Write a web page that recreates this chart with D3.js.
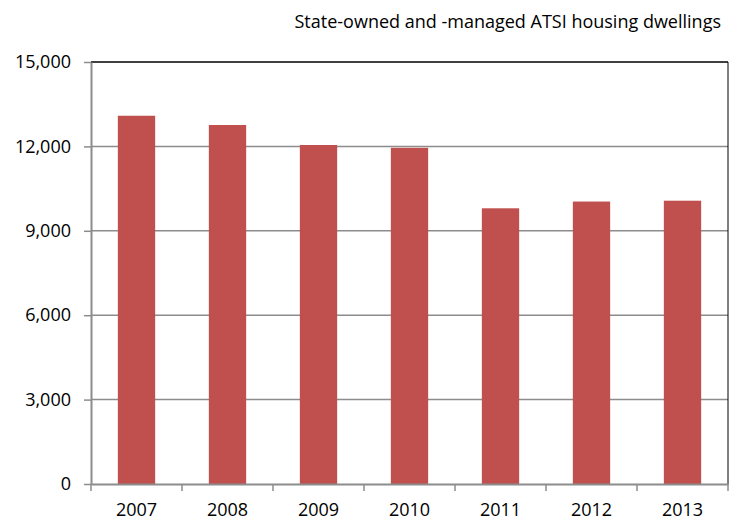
<!DOCTYPE html>
<html>
<head>
<meta charset="utf-8">
<script src="https://cdn.jsdelivr.net/npm/d3@7"></script>
<style>
  body { margin: 0; background: #fff; }
  text { font-family: "Open Sans", "DejaVu Sans", sans-serif; fill: #000; }
</style>
</head>
<body>
<svg id="chart"></svg>
<script>
const years = ["2007", "2008", "2009", "2010", "2011", "2012", "2013"];
const dwellings = [13090, 12760, 12050, 11950, 9800, 10040, 10070];
const yTicks = [0, 3000, 6000, 9000, 12000, 15000];
const title = "State-owned and -managed ATSI housing dwellings";

const width = 731;
const height = 520;
const plotLeft = 91, plotRight = 728, plotTop = 62, plotBottom = 484;

const svg = d3.select("#chart")
              .attr("width", width)
              .attr("height", height);

const xScale = d3.scaleBand()
                 .domain(years)
                 .range([plotLeft, plotRight])
                 .paddingInner(0.59)
                 .paddingOuter(0.295);
const yScale = d3.scaleLinear()
                 .domain([0, 15000])
                 .range([plotBottom, plotTop]);

// gridlines
svg.append("g")
   .selectAll("line")
   .data(yTicks.filter(d => d > 0 && d < 15000))
   .enter()
   .append("line")
   .attr("x1", plotLeft)
   .attr("x2", plotRight)
   .attr("y1", d => yScale(d))
   .attr("y2", d => yScale(d))
   .attr("stroke", "#8c8c8c")
   .attr("stroke-width", 1.5);

// top and right border
svg.append("line")
   .attr("x1", plotLeft).attr("x2", plotRight)
   .attr("y1", yScale(15000)).attr("y2", yScale(15000))
   .attr("stroke", "#000").attr("stroke-width", 1.5);
svg.append("line")
   .attr("x1", plotRight).attr("x2", plotRight)
   .attr("y1", plotTop).attr("y2", plotBottom)
   .attr("stroke", "#000").attr("stroke-width", 1);

svg.selectAll(".bar")
   .data(dwellings)
   .enter()
   .append("rect")
   .attr("class", "bar")
   .attr("x", (d, i) => xScale(years[i]))
   .attr("y", d => yScale(d))
   .attr("width", xScale.bandwidth())
   .attr("height", d => plotBottom - yScale(d))
   .attr("fill", "#c0504d");

const yAxis = d3.axisLeft(yScale)
                .tickValues(yTicks)
                .tickFormat(d3.format(","))
                .tickSizeInner(7)
                .tickSizeOuter(0)
                .tickPadding(13);
const gy = svg.append("g")
   .attr("transform", `translate(${plotLeft}, 0)`)
   .call(yAxis);
gy.select(".domain").attr("stroke", "#8c8c8c").attr("stroke-width", 2);
gy.selectAll(".tick line").attr("stroke", "#8c8c8c").attr("stroke-width", 1.5);
gy.selectAll("text").style("font-size", "18px");

// x axis with ticks at category boundaries
const xAxis = d3.axisBottom(xScale).tickSize(0).tickPadding(19);
const gx = svg.append("g")
   .attr("transform", `translate(0, ${plotBottom})`)
   .call(xAxis);
gx.select(".domain").attr("stroke", "#8c8c8c").attr("stroke-width", 2);
gx.selectAll("text").style("font-size", "18px");
const step = xScale.step();
gx.selectAll(".bound")
  .data(d3.range(years.length + 1))
  .enter()
  .append("line")
  .attr("x1", i => plotLeft + i * step)
  .attr("x2", i => plotLeft + i * step)
  .attr("y1", 0)
  .attr("y2", 7)
  .attr("stroke", "#8c8c8c")
  .attr("stroke-width", 1.5);

svg.append("text")
   .attr("x", 721)
   .attr("y", 28)
   .attr("text-anchor", "end")
   .style("font-size", "18px")
   .text(title);
</script>
</body>
</html>
